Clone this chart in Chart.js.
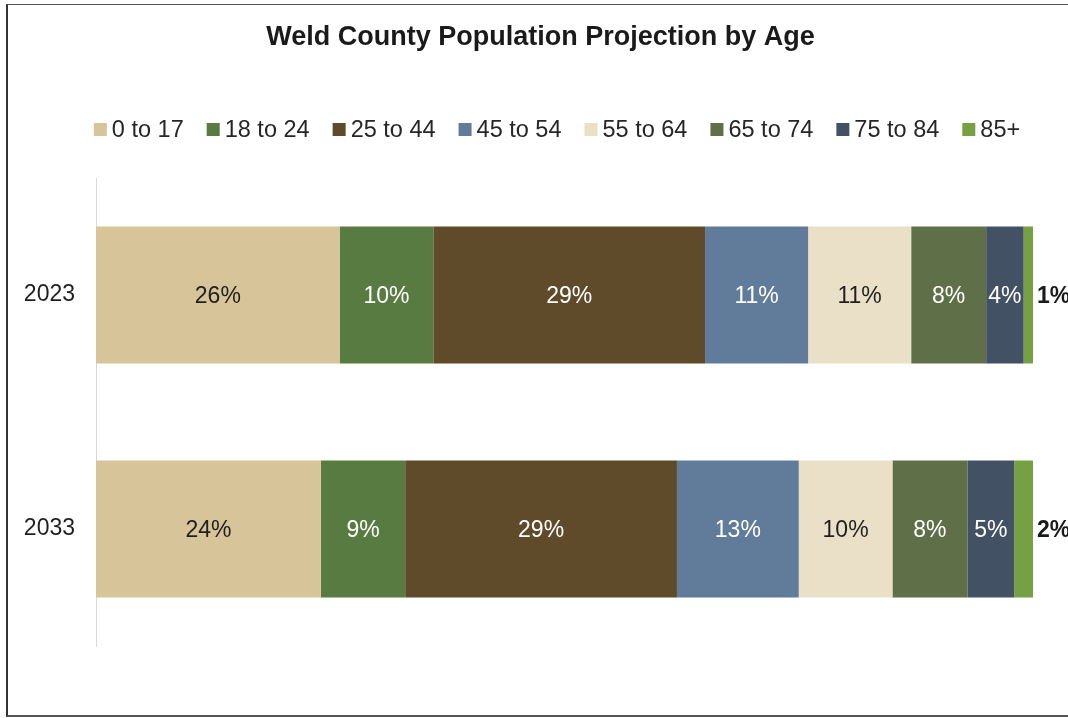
<!DOCTYPE html>
<html>
<head>
<meta charset="utf-8">
<title>Weld County Population Projection by Age</title>
<script src="https://cdn.jsdelivr.net/npm/chart.js@4.4.1/dist/chart.umd.min.js"></script>
<style>
  html, body { margin: 0; padding: 0; background: #fff; }
  #wrap { position: relative; width: 1068px; height: 718px; overflow: hidden; }
  #frame {
    position: absolute; left: 6px; top: 4px; width: 1080px; height: 710px;
    border-left: 2px solid #333; border-top: 1px solid #555; border-bottom: 2px solid #555;
    pointer-events: none;
  }
</style>
</head>
<body>
<div id="wrap">
  <canvas id="chart" width="1068" height="718"></canvas>
  <div id="frame"></div>
</div>
<script>
// years on the vertical axis
const years = ["2023", "2033"];

// age groups, one stacked segment each
const ageGroups = ["0 to 17", "18 to 24", "25 to 44", "45 to 54", "55 to 64", "65 to 74", "75 to 84", "85+"];

// share of population (%) per age group, in year order
const age0to17 = [26, 24];
const age18to24 = [10, 9];
const age25to44 = [29, 29];
const age45to54 = [11, 13];
const age55to64 = [11, 10];
const age65to74 = [8, 8];
const age75to84 = [4, 5];
const age85plus = [1, 2];

const seriesValues = [age0to17, age18to24, age25to44, age45to54, age55to64, age65to74, age75to84, age85plus];
const colors = ["#D8C499", "#587B41", "#5F4A29", "#617C9A", "#EADFC7", "#5F7048", "#425163", "#76A142"];
const labelColors = ["#1f1f1f", "#fff", "#fff", "#fff", "#1f1f1f", "#fff", "#fff", "#1f1f1f"];

const FONT = "'Liberation Sans', Arial, sans-serif";

// percent labels inside each segment; the last (tiny) one goes bold outside the bar
const segmentLabels = {
  id: "segmentLabels",
  afterDatasetsDraw(chart) {
    const ctx = chart.ctx;
    ctx.save();
    ctx.textBaseline = "middle";
    const last = chart.data.datasets.length - 1;
    chart.data.datasets.forEach((ds, i) => {
      chart.getDatasetMeta(i).data.forEach((bar, j) => {
        const text = ds.data[j] + "%";
        if (i === last) {
          ctx.font = "bold 23px " + FONT;
          ctx.fillStyle = "#1a1a1a";
          ctx.textAlign = "left";
          ctx.fillText(text, bar.x + 4, bar.y + 2);
        } else {
          ctx.font = "23px " + FONT;
          ctx.fillStyle = labelColors[i];
          ctx.textAlign = "center";
          ctx.fillText(text, (bar.x + bar.base) / 2, bar.y + 2);
        }
      });
    });
    ctx.restore();
  }
};

// legend row with small square swatches close to the text
const squareLegend = {
  id: "squareLegend",
  afterDraw(chart) {
    const ctx = chart.ctx;
    const box = 13, gapText = 5, gapItem = 23, cy = 129.5, centerX = 557;
    ctx.save();
    ctx.font = "23.5px " + FONT;
    const items = chart.data.datasets.map((ds) => ({
      text: ds.label, color: ds.backgroundColor, w: ctx.measureText(ds.label).width
    }));
    let total = items.reduce((s, it) => s + box + gapText + it.w, 0) + gapItem * (items.length - 1);
    let x = centerX - total / 2;
    ctx.textBaseline = "middle";
    ctx.textAlign = "left";
    items.forEach((it) => {
      ctx.fillStyle = it.color;
      ctx.fillRect(x, cy - box / 2, box, box);
      ctx.fillStyle = "#262626";
      ctx.fillText(it.text, x + box + gapText, cy + 1);
      x += box + gapText + it.w + gapItem;
    });
    ctx.restore();
  }
};

// center the title over the plot rather than the whole canvas
const titleShift = {
  id: "titleShift",
  afterLayout(chart) {
    if (chart.titleBlock) chart.titleBlock.left += 48;
  }
};

const ctx = document.getElementById("chart").getContext("2d");
const myChart = new Chart(ctx, {
  type: "bar",
  data: {
    labels: years,
    datasets: ageGroups.map((name, i) => ({
      label: name,
      data: seriesValues[i],
      backgroundColor: colors[i],
      borderWidth: 0,
      categoryPercentage: 1,
      barPercentage: 0.585,
    })),
  },
  options: {
    indexAxis: "y",
    responsive: false,
    animation: false,
    devicePixelRatio: 1,
    layout: { padding: { left: 0, right: 35, top: 0, bottom: 72 } },
    scales: {
      x: { stacked: true, min: 0, max: 100, display: false },
      y: {
        stacked: true,
        grid: { display: false, drawTicks: false },
        border: { display: true, color: "#d9d9d9", width: 1 },
        ticks: { color: "#1f1f1f", font: { family: FONT, size: 23 }, padding: 21 },
        afterFit(scale) { scale.width = 96; },
      },
    },
    plugins: {
      legend: { display: false },
      tooltip: { enabled: false },
      title: {
        display: true,
        text: "Weld County Population Projection by Age",
        color: "#1a1a1a",
        font: { family: FONT, size: 27, weight: "bold" },
        padding: { top: 21.8, bottom: 123.8 },
      },
    },
  },
  plugins: [segmentLabels, squareLegend, titleShift],
});
</script>
</body>
</html>
